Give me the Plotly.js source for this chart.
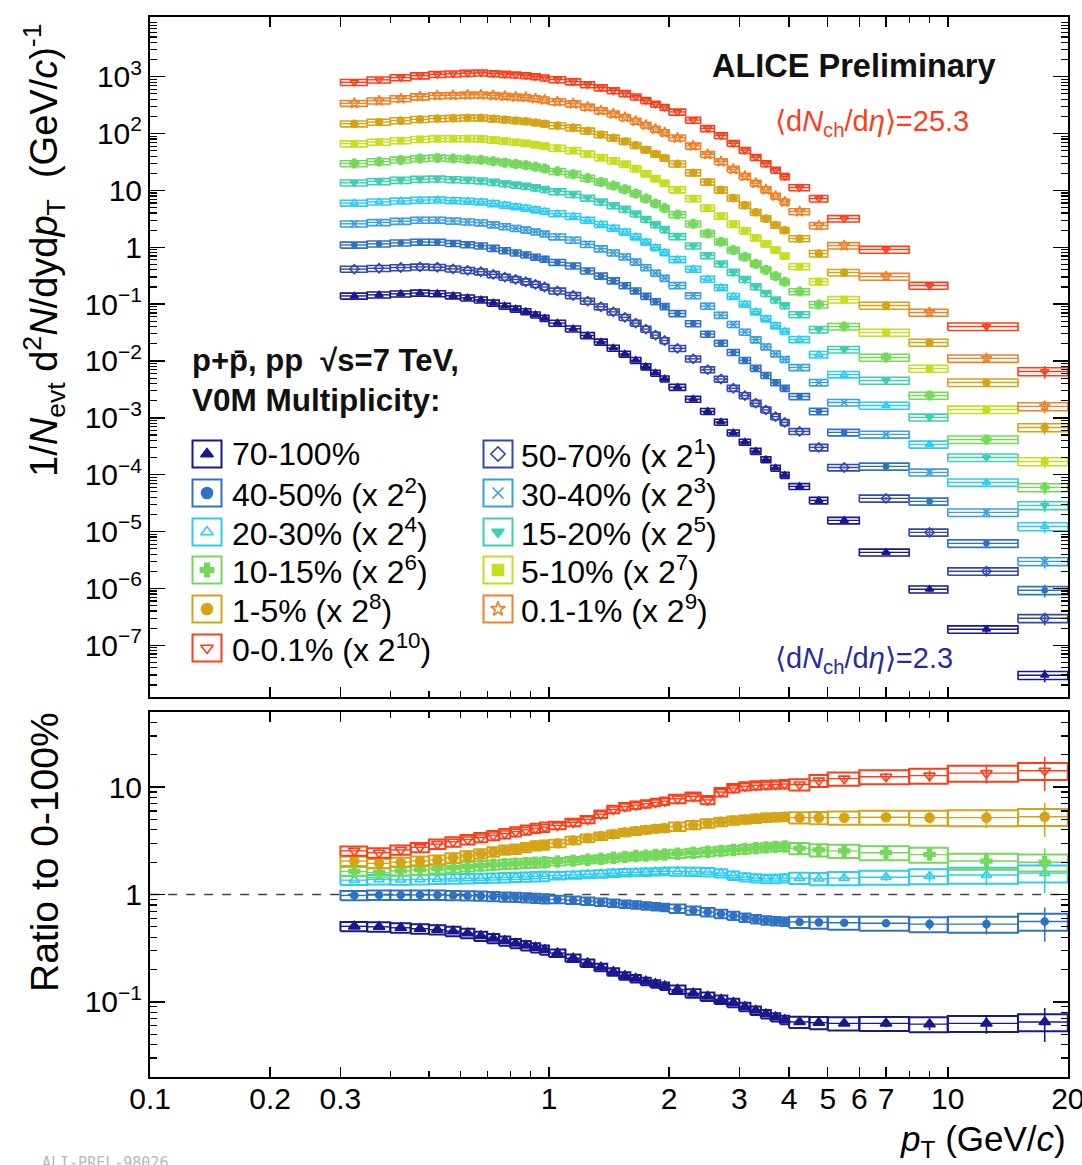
<!DOCTYPE html>
<html><head><meta charset="utf-8">
<script src="https://cdn.plot.ly/plotly-3.0.1.min.js"></script>
<style>html,body{margin:0;padding:0;background:#fff}#chart{width:1082px;height:1165px}</style>
</head><body><div id="chart"></div>
<script>
// ---------------- DATA ----------------
const ptEdges = [0.3,0.35,0.4,0.45,0.5,0.55,0.6,0.65,0.7,0.75,0.8,0.85,0.9,0.95,1.0,
  1.1,1.2,1.3,1.4,1.5,1.6,1.7,1.8,1.9,2.0,2.2,2.4,2.6,2.8,3.0,3.2,3.4,3.6,3.8,4.0,
  4.5,5.0,6.0,8.0,10.0,15.0,20.0];

const centralityLabels = ['70-100%','50-70%','40-50%','30-40%','20-30%','15-20%',
  '10-15%','5-10%','1-5%','0.1-1%','0-0.1%'];
const scaleExponents = [0,1,2,3,4,5,6,7,8,9,10];

// spectra as drawn (already multiplied by 2^n of the legend)
const spec_70_100 = [0.1393,0.1457,0.1517,0.1573,0.1536,0.1405,0.1290,0.1190,0.1050,0.0926,0.0823,0.0741,0.0649,0.0565,0.0464,0.0368,0.0281,0.0216,0.0169,0.01327,0.01029,0.00794,0.00613,0.00485,0.00346,0.00213,0.00130,0.000844,0.000545,0.000376,0.000259,0.000184,0.000131,9.8e-5,6.23e-5,3.53e-5,1.57e-5,4.31e-6,9.64e-7,1.91e-7,2.97e-8];
const spec_50_70 = [0.413,0.427,0.440,0.452,0.445,0.417,0.393,0.371,0.333,0.299,0.272,0.248,0.223,0.200,0.171,0.142,0.113,0.0899,0.0731,0.0586,0.0463,0.0364,0.0285,0.0229,0.0167,0.0109,0.00704,0.00482,0.00332,0.00246,0.00181,0.00138,0.00105,0.00083,5.77e-4,3.02e-4,1.34e-4,3.83e-5,9.68e-6,2.0e-6,2.98e-7];
const spec_40_50 = [1.099,1.149,1.195,1.237,1.231,1.169,1.113,1.062,0.964,0.875,0.800,0.738,0.674,0.618,0.545,0.471,0.386,0.313,0.258,0.212,0.172,0.138,0.111,0.0911,0.0686,0.0454,0.0297,0.0206,0.0142,0.0103,0.00746,0.00558,0.00417,0.00332,0.00238,0.00130,5.54e-4,1.40e-4,3.39e-5,6.20e-6,9.26e-7];
const spec_30_40 = [2.586,2.735,2.873,2.999,3.015,2.901,2.797,2.699,2.497,2.311,2.151,2.017,1.864,1.720,1.532,1.341,1.128,0.943,0.800,0.678,0.552,0.440,0.351,0.286,0.213,0.141,0.0922,0.0638,0.0441,0.0323,0.0237,0.0178,0.0134,0.0107,0.00769,0.00419,0.00186,5.11e-4,1.10e-4,2.17e-5,2.99e-6];
const spec_20_30 = [6.01,6.29,6.54,6.77,6.81,6.64,6.48,6.32,5.90,5.52,5.18,4.90,4.58,4.29,3.91,3.50,3.00,2.53,2.17,1.86,1.53,1.23,0.986,0.810,0.610,0.412,0.276,0.195,0.137,0.100,0.0735,0.0554,0.0417,0.0333,0.0239,0.0130,0.00579,0.00165,3.41e-4,7.32e-5,1.23e-5];
const spec_15_20 = [13.59,14.38,15.11,15.76,15.94,15.53,15.16,14.80,13.96,13.17,12.49,11.89,11.16,10.45,9.51,8.52,7.35,6.28,5.43,4.69,3.87,3.11,2.50,2.06,1.55,1.06,0.717,0.512,0.364,0.272,0.203,0.155,0.119,0.0945,0.0657,0.0358,0.0159,0.00454,0.00102,2.01e-4,2.89e-5];
const spec_10_15 = [29.7,32.1,34.4,36.5,37.3,36.3,35.5,34.6,32.7,30.8,29.2,27.8,26.0,24.2,21.7,19.3,16.5,14.1,12.2,10.5,8.79,7.18,5.86,4.89,3.76,2.58,1.75,1.25,0.894,0.678,0.514,0.400,0.311,0.247,0.166,0.0984,0.0404,0.0115,0.00247,4.17e-4,5.98e-5];
const spec_5_10 = [66.3,70.9,75.2,79.2,81.4,81.8,81.7,81.0,77.2,73.5,70.3,67.5,63.9,60.3,55.4,50.3,43.9,37.9,33.1,28.9,24.2,19.7,16.1,13.4,10.3,7.16,4.91,3.55,2.56,1.94,1.47,1.15,0.892,0.700,0.458,0.249,0.120,0.0317,0.00738,0.00140,1.71e-4];
const spec_1_5 = [148.9,159.2,169.0,177.9,183.8,186.2,188.5,189.7,182.4,175.5,169.3,163.9,156.4,148.7,138.1,126.9,111.4,96.1,83.9,73.2,62.2,52.0,43.6,37.1,29.4,20.5,14.1,10.2,7.31,5.50,4.13,3.19,2.46,1.99,1.42,0.775,0.359,0.0945,0.0211,0.00419,6.78e-4];
const spec_01_1 = [341,377,412,445,466,472,478,481,468,454,442,432,413,393,365,335,294,254,222,193,166,141,120,104,84.0,60.6,43.1,32.1,23.6,17.8,13.4,10.3,7.96,6.29,4.24,2.41,1.07,0.305,0.0712,0.0111,0.00159];
const spec_0_01 = [797,882,964,1041,1098,1125,1152,1171,1138,1106,1075,1050,1008,956,889,817,726,641,570,507,442,382,330,290,240,173,123,91.9,67.5,50.9,38.3,29.6,22.8,17.6,11.2,7.18,3.19,0.911,0.212,0.0404,0.00654];

// ratios to 0-100%
const ratio_70_100 = [0.505,0.50,0.49,0.48,0.47,0.455,0.435,0.41,0.39,0.37,0.35,0.335,0.32,0.305,0.285,0.255,0.23,0.21,0.19,0.175,0.165,0.155,0.147,0.14,0.13,0.12,0.112,0.105,0.098,0.09,0.083,0.077,0.072,0.068,0.065,0.064,0.063,0.063,0.062,0.063,0.065];
const ratio_40_50 = [0.98,0.99,0.99,0.99,0.99,0.98,0.975,0.97,0.96,0.95,0.945,0.935,0.925,0.915,0.9,0.885,0.87,0.85,0.83,0.815,0.8,0.785,0.77,0.76,0.74,0.71,0.685,0.66,0.635,0.61,0.59,0.575,0.565,0.56,0.555,0.55,0.545,0.54,0.53,0.53,0.56];
const ratio_20_30 = [1.36,1.38,1.37,1.38,1.39,1.4,1.41,1.42,1.43,1.44,1.45,1.46,1.47,1.48,1.5,1.52,1.54,1.56,1.58,1.6,1.61,1.62,1.63,1.64,1.64,1.63,1.62,1.58,1.5,1.45,1.42,1.4,1.4,1.42,1.42,1.4,1.42,1.45,1.48,1.52,1.58];
const ratio_10_15 = [1.64,1.6,1.66,1.7,1.74,1.78,1.82,1.86,1.89,1.92,1.94,1.96,1.98,2.0,2.03,2.07,2.11,2.15,2.2,2.24,2.28,2.3,2.33,2.36,2.4,2.45,2.5,2.55,2.6,2.65,2.7,2.75,2.78,2.8,2.7,2.6,2.55,2.45,2.35,2.05,2.0];
const ratio_1_5 = [2.05,1.95,2.0,2.05,2.1,2.2,2.3,2.4,2.5,2.6,2.65,2.75,2.85,2.9,3.0,3.2,3.35,3.5,3.65,3.8,3.9,4.0,4.1,4.15,4.3,4.45,4.6,4.75,4.9,5.0,5.1,5.2,5.25,5.3,5.2,5.2,5.2,5.25,5.2,5.2,5.3];
const ratio_0_01 = [2.55,2.45,2.6,2.75,2.95,3.1,3.25,3.4,3.55,3.7,3.85,4.0,4.15,4.25,4.4,4.7,5.0,5.6,6.2,6.6,6.8,7.0,7.2,7.4,7.8,8.2,7.6,9.0,9.8,10.2,10.4,10.5,10.6,10.7,10.6,11.5,12.0,12.5,12.8,13.5,14.2];

// relative uncertainties (boxes = systematic, bars = statistical)
const sysRelSpectra = [0.12,0.12,0.12,0.12,0.12,0.12,0.12,0.12,0.12,0.12,0.12,0.12,0.12,0.12,0.12,0.12,0.12,0.12,0.12,0.12,0.12,0.12,0.12,0.12,0.12,0.12,0.12,0.12,0.12,0.12,0.12,0.12,0.12,0.12,0.12,0.13,0.13,0.14,0.14,0.15,0.16];
const statRelSpectra = [0,0,0,0,0,0,0,0,0,0,0,0,0,0,0,0,0,0,0,0,0,0,0,0,0,0,0,0,0,0,0,0,0,0,0.02,0.03,0.04,0.06,0.10,0.15,0.25];
const sysRelRatio = [0.10,0.10,0.10,0.10,0.10,0.10,0.10,0.10,0.10,0.10,0.10,0.10,0.10,0.10,0.08,0.08,0.08,0.08,0.08,0.08,0.08,0.08,0.08,0.08,0.09,0.09,0.09,0.09,0.09,0.09,0.09,0.09,0.09,0.09,0.12,0.13,0.14,0.15,0.16,0.17,0.18];
const statRelRatio = [0,0,0,0,0,0,0,0,0,0,0,0,0,0,0,0,0,0,0,0,0,0,0,0,0,0,0,0,0,0,0,0,0,0,0.03,0.04,0.05,0.08,0.12,0.20,0.35];

const spectra = [spec_70_100,spec_50_70,spec_40_50,spec_30_40,spec_20_30,spec_15_20,spec_10_15,spec_5_10,spec_1_5,spec_01_1,spec_0_01];
const ratios = {0:ratio_70_100, 2:ratio_40_50, 4:ratio_20_30, 6:ratio_10_15, 8:ratio_1_5, 10:ratio_0_01};

// ---------------- STYLE ----------------
const colors = ['#18188f','#3048b0','#2f72c4','#3a9ee0','#2ccbf2','#3ecfb2','#74d85a','#c6de1f','#d5a416','#ef8129','#ff3d17'];
const symbols = ['triangle-up','diamond-open','circle','x-thin-open','triangle-up-open','triangle-down','cross','square','circle','star-open','triangle-down-open'];
const sizeTop = [7,7,5,7,7,7,7,6,7,8,7];
const sizeRatio = [10,9,7,9,9,9,9,8,9,10,10];
const FONT = 'Liberation Sans, Arial, Helvetica, sans-serif';

const W = 1082, H = 1165, ML = 150, MR = 14, MT = 17, MB = 88;
const plotW = W - ML - MR, plotH = H - MT - MB;
const px = x => (x - ML) / plotW;
const py = y => (H - MB - y) / plotH;

const ptLo = ptEdges.slice(0, -1), ptHi = ptEdges.slice(1);
const ptC = ptLo.map((lo, i) => (lo + ptHi[i]) / 2);
const halfW = ptLo.map((lo, i) => (ptHi[i] - lo) / 2);

function boxTrace(vals, rel, color, width, xa, ya) {
  const xs = [], ys = [];
  vals.forEach((v, i) => {
    const lo = v * (1 - rel[i]), hi = v * (1 + rel[i]);
    xs.push(ptLo[i], ptHi[i], ptHi[i], ptLo[i], ptLo[i], null);
    ys.push(lo, lo, hi, hi, lo, null);
  });
  return {type:'scatter', mode:'lines', x:xs, y:ys, xaxis:xa, yaxis:ya,
    line:{color:color, width:width}, hoverinfo:'skip', showlegend:false};
}
function markerTrace(vals, stat, k, size, xa, ya) {
  const c = colors[k];
  return {type:'scatter', mode:'markers', x:ptC, y:vals, xaxis:xa, yaxis:ya,
    name:centralityLabels[k], showlegend:false,
    marker:{symbol:symbols[k], size:size, color:c, line:{color:c, width:1.6}},
    error_y:{type:'data', array:vals.map((v,i)=>v*stat[i]), color:c, thickness:1.6, width:0, visible:true},
    error_x:{type:'data', array:halfW, color:c, thickness:1.4, width:0, visible:true}};
}

const traces = [];
for (let k = 0; k < spectra.length; k++) {
  traces.push(boxTrace(spectra[k], sysRelSpectra, colors[k], 1.6, 'x', 'y'));
  traces.push(markerTrace(spectra[k], statRelSpectra, k, sizeTop[k], 'x', 'y'));
}
traces.push({type:'scatter', mode:'lines', x:[0.1, 20], y:[1, 1], xaxis:'x2', yaxis:'y2',
  line:{color:'#444', width:1.5, dash:'dash'}, hoverinfo:'skip', showlegend:false});
Object.keys(ratios).map(Number).forEach(k => {
  traces.push(boxTrace(ratios[k], sysRelRatio, colors[k], 2, 'x2', 'y2'));
  traces.push(markerTrace(ratios[k], statRelRatio, k, sizeRatio[k], 'x2', 'y2'));
});

// legend (manual, two columns like the original)
const legColX = [207, 498], legTextX = [230, 519];
const legRowY = [454, 493, 532, 570, 609, 648];
const legX = [], legY = [];
const shapes = [], annotations = [];
centralityLabels.forEach((lab, k) => {
  const col = k % 2, row = Math.floor(k / 2);
  legX.push(legColX[col]); legY.push(legRowY[row]);
  shapes.push({type:'rect', xref:'paper', yref:'paper',
    x0:px(legColX[col]-14.5), x1:px(legColX[col]+14.5), y0:py(legRowY[row]+13.5), y1:py(legRowY[row]-13.5),
    line:{color:colors[k], width:2}, fillcolor:'rgba(0,0,0,0)'});
  const txt = scaleExponents[k] === 0 ? lab : lab + ' (x 2<sup>' + scaleExponents[k] + '</sup>)';
  annotations.push({xref:'paper', yref:'paper', x:px(legTextX[col]), y:py(legRowY[row]),
    xanchor:'left', yanchor:'middle', showarrow:false, text:txt,
    font:{family:FONT, size:32, color:'#000'}});
});
traces.push({type:'scatter', mode:'markers', x:legX, y:legY, xaxis:'x3', yaxis:'y3',
  hoverinfo:'skip', showlegend:false,
  marker:{symbol:symbols, size:11, color:colors, line:{color:colors, width:1.6}}});

const T = (t, x, y, opt) => Object.assign({xref:'paper', yref:'paper', x:px(x), y:py(y),
  showarrow:false, text:t, xanchor:'left', yanchor:'middle', font:{family:FONT, size:30, color:'#000'}}, opt || {});

annotations.push(
  T('<b>ALICE Preliminary</b>', 710, 66, {font:{family:FONT, size:32.5, color:'#111'}}),
  T('⟨d<i>N</i><sub>ch</sub>/d<i>η</i>⟩=25.3', 773, 123, {font:{family:FONT, size:29, color:'#ff3d17'}}),
  T('⟨d<i>N</i><sub>ch</sub>/d<i>η</i>⟩=2.3', 773, 660, {font:{family:FONT, size:29, color:'#2a2a9c'}}),
  T('<b>p+p̄, pp  √s=7 TeV,</b>', 190, 360, {font:{family:FONT, size:31, color:'#111'}}),
  T('<b>V0M Multiplicity:</b>', 190, 400, {font:{family:FONT, size:31.5, color:'#111'}}),
  T('1/<i>N</i><sub>evt</sub> d<sup>2</sup><i>N</i>/dyd<i>p</i><sub>T</sub>  (GeV/<i>c</i>)<sup>-1</sup>', 44, 250,
    {xanchor:'center', textangle:-90, font:{family:FONT, size:38, color:'#000'}}),
  T('Ratio to 0-100%', 44, 852, {xanchor:'center', textangle:-90, font:{family:FONT, size:39, color:'#000'}}),
  T('<i>p</i><sub>T</sub> (GeV/<i>c</i>)', 1068, 1141, {xanchor:'right', font:{family:FONT, size:35, color:'#000'}}),
  T('ALI-PREL-98026', 40, 1152, {yanchor:'top', font:{family:'DejaVu Sans Mono, monospace', size:15, color:'#b8b8b8'}})
);

// ---------------- AXES ----------------
const decadeMinor = (lo, hi) => { const v = []; for (let e = lo; e <= hi; e++) for (let m = 2; m <= 9; m++) v.push(m * Math.pow(10, e)); return v; };
const axisBase = {showline:true, linecolor:'#000', linewidth:2, mirror:'allticks', ticks:'inside',
  tickcolor:'#000', tickwidth:1.5, showgrid:false, zeroline:false,
  tickfont:{family:FONT, size:30, color:'#000'}};

const xTickVals = [0.1,0.2,0.3,1,2,3,4,5,6,7,10,20];
const xTickText = ['0.1','0.2','0.3','1','2','3','4','5','6','7','10','20'];
const xMinor = [0.4,0.5,0.6,0.7,0.8,0.9,8,9];
const xRange = [-1.0004, Math.log10(20) + 0.0004];

const yTopVals = [1e-7,1e-6,1e-5,1e-4,1e-3,1e-2,1e-1,1,10,100,1000];
const yTopText = ['10<sup>−7</sup>','10<sup>−6</sup>','10<sup>−5</sup>','10<sup>−4</sup>','10<sup>−3</sup>','10<sup>−2</sup>','10<sup>−1</sup>','1','10','10<sup>2</sup>','10<sup>3</sup>'];

const layout = {
  width:W, height:H, autosize:false,
  margin:{l:ML, r:MR, t:MT, b:MB, pad:0},
  paper_bgcolor:'#fff', plot_bgcolor:'rgba(0,0,0,0)',
  showlegend:false,
  xaxis:Object.assign({}, axisBase, {type:'log', range:xRange, domain:[0,1], anchor:'y',
    tickmode:'array', tickvals:xTickVals, ticklen:10, showticklabels:false,
    minor:{tickmode:'array', tickvals:xMinor, ticks:'inside', ticklen:6, tickcolor:'#000', tickwidth:1.2}}),
  yaxis:Object.assign({}, axisBase, {type:'log', range:[-7.91, 4.05], domain:[py(697), 1], anchor:'x',
    tickmode:'array', tickvals:yTopVals, ticktext:yTopText, ticklen:15,
    minor:{tickmode:'array', tickvals:decadeMinor(-8, 3), ticks:'inside', ticklen:7, tickcolor:'#000', tickwidth:1.2}}),
  xaxis2:Object.assign({}, axisBase, {type:'log', range:xRange, domain:[0,1], anchor:'y2', matches:'x',
    tickmode:'array', tickvals:xTickVals, ticktext:xTickText, ticklen:10, ticklabeloverflow:'allow',
    ticklabelstandoff:-6,
    minor:{tickmode:'array', tickvals:xMinor, ticks:'inside', ticklen:6, tickcolor:'#000', tickwidth:1.2}}),
  yaxis2:Object.assign({}, axisBase, {type:'log', range:[-1.70, 1.70], domain:[0, py(712)], anchor:'x2',
    tickmode:'array', tickvals:[0.1,1,10], ticktext:['10<sup>−1</sup>','1','10'], ticklen:15,
    minor:{tickmode:'array', tickvals:decadeMinor(-2, 1), ticks:'inside', ticklen:7, tickcolor:'#000', tickwidth:1.2}}),
  xaxis3:{domain:[0,1], range:[ML, W-MR], visible:false, fixedrange:true, anchor:'y3'},
  yaxis3:{domain:[0,1], range:[H-MB, MT], visible:false, fixedrange:true, anchor:'x3'},
  shapes:shapes,
  annotations:annotations
};

Plotly.newPlot('chart', traces, layout, {staticPlot:true, displayModeBar:false});
</script>
</body></html>
